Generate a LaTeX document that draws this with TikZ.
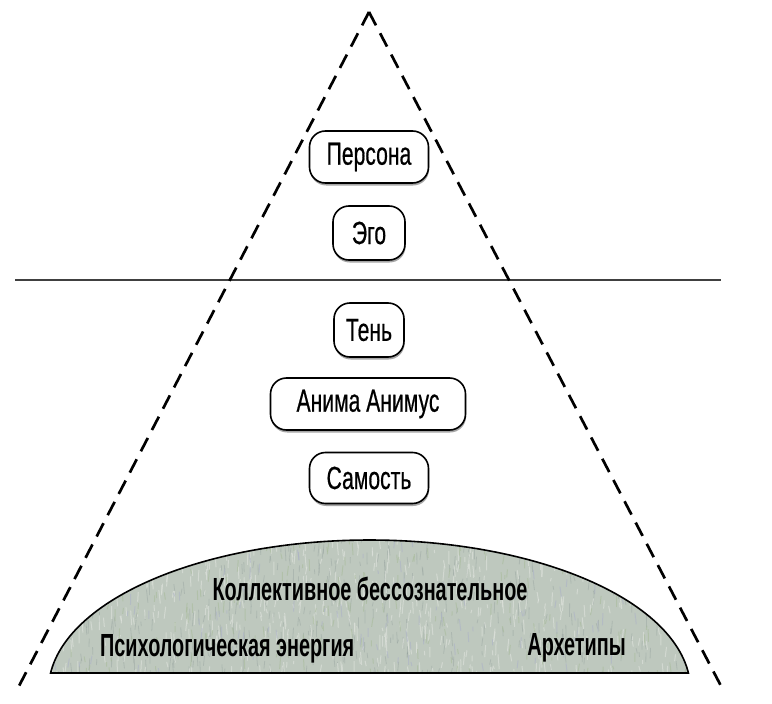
\documentclass[tikz,border=0pt]{standalone}
\usepackage{fontspec}
\setmainfont{Liberation Sans}[FakeStretch=0.66,FakeBold=0.5]
\newfontfamily\condbold{Liberation Sans Bold}[FakeStretch=0.62]
\usetikzlibrary{shadows}
\definecolor{domefill}{RGB}{190,200,190}
\definecolor{domedark}{RGB}{140,152,150}
\definecolor{domelight}{RGB}{222,226,220}
\definecolor{domegreen}{RGB}{165,185,150}
\definecolor{domeblue}{RGB}{170,175,200}
\tikzset{
  stagebox/.style={draw, line width=1.6pt, rounded corners=16pt, fill=white,
    minimum height=52pt, inner sep=0pt,
    font=\fontsize{32}{36}\selectfont,
    drop shadow={shadow xshift=0.6pt, shadow yshift=-2.5pt, fill=black!35, opacity=1}},
  dometext/.style={inner sep=0pt, font=\condbold\fontsize{32}{36}\selectfont},
  dashline/.style={line width=2.7pt, dash pattern=on 15pt off 9pt, line cap=butt},
  levelline/.style={line width=1.5pt, black!75},
  domeedge/.style={line width=1.6pt, black}
}
\begin{document}
\begin{tikzpicture}[x=1pt,y=-1pt]
\useasboundingbox (0,0) rectangle (772,704);
\fill[white] (0,0) rectangle (772,704);

% dome
\begin{scope}
  \clip plot[domain=6.5:173.5, samples=120] ({369.5+321*cos(\x)},{690-150*sin(\x)}) -- cycle;
  \fill[domefill] (40,530) rectangle (700,680);
  \pgfmathsetseed{7}
  \foreach \i in {1,...,450} {
    \pgfmathsetmacro\xx{50+rnd*640}
    \pgfmathsetmacro\yy{535+rnd*140}
    \pgfmathsetmacro\ll{3+rnd*12}
    \pgfmathsetmacro\dx{rnd*3-1.5}
    \draw[domedark, opacity=0.35, line width=0.8pt] (\xx,\yy) -- ++(\dx,\ll);
  }
  \foreach \i in {1,...,600} {
    \pgfmathsetmacro\xx{50+rnd*640}
    \pgfmathsetmacro\yy{535+rnd*140}
    \pgfmathsetmacro\ll{3+rnd*12}
    \pgfmathsetmacro\dx{rnd*3-1.5}
    \draw[domelight, opacity=0.65, line width=1pt] (\xx,\yy) -- ++(\dx,\ll);
  }
  \foreach \i in {1,...,250} {
    \pgfmathsetmacro\xx{50+rnd*640}
    \pgfmathsetmacro\yy{535+rnd*140}
    \pgfmathsetmacro\ll{3+rnd*10}
    \pgfmathsetmacro\dx{rnd*3-1.5}
    \draw[domegreen, opacity=0.5, line width=1pt] (\xx,\yy) -- ++(\dx,\ll);
  }
  \foreach \i in {1,...,150} {
    \pgfmathsetmacro\xx{50+rnd*640}
    \pgfmathsetmacro\yy{535+rnd*140}
    \pgfmathsetmacro\ll{3+rnd*10}
    \pgfmathsetmacro\dx{rnd*3-1.5}
    \draw[domeblue, opacity=0.5, line width=1pt] (\xx,\yy) -- ++(\dx,\ll);
  }
\end{scope}
\draw[domeedge] plot[domain=6.5:173.5, samples=120] ({369.5+321*cos(\x)},{690-150*sin(\x)}) -- cycle;

\node[dometext, anchor=base] (kb) at (370,600) {Коллективное бессознательное};
\node[dometext, anchor=base west] (pe) at (100,656) {Психологическая энергия};
\node[dometext, anchor=base east] (ar) at (626,655) {Архетипы};

% level line
\coordinate (hl) at (15,280);
\coordinate (hr) at (721,280);
\draw[levelline] (hl) -- (hr);

% pyramid
\coordinate (apex) at (369,12);
\coordinate (bl) at (19,686);
\coordinate (br) at (721,686);
\draw[dashline] (apex) -- (bl);
\draw[dashline] (apex) -- (br);

% stages
\node[stagebox, minimum width=119pt] (persona) at (369,157) {Персона};
\node[stagebox, minimum width=72pt, minimum height=54pt] (ego) at (369,233) {Эго};
\node[stagebox, minimum width=70pt, minimum height=54pt] (shadow) at (369,330) {Тень};
\node[stagebox, minimum width=195pt] (anima) at (368,404) {Анима Анимус};
\node[stagebox, minimum width=119pt, minimum height=51pt] (self) at (369,478) {Самость};
\end{tikzpicture}
\end{document}
